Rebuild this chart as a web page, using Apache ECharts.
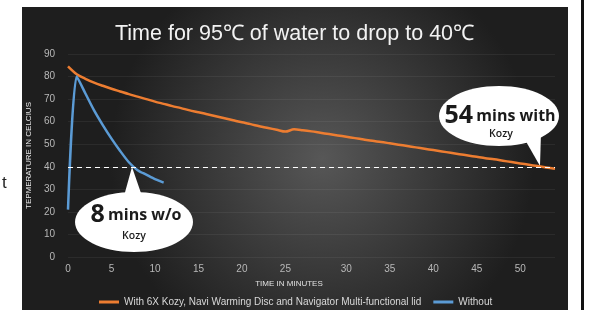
<!DOCTYPE html>
<html>
<head>
<meta charset="utf-8">
<script src="https://cdn.jsdelivr.net/npm/echarts@6.0.0/dist/echarts.min.js"></script>
<style>
  html, body { margin: 0; padding: 0; background: #ffffff; }
  #chart { width: 589px; height: 310px; }
</style>
</head>
<body>
<div id="chart"></div>
<script>
// minutes (category axis, the source sheet has extra half-minute rows around 25)
const minutes = ['0','1','2','3','4','5','6','7','8','9','10','11','12','13','14','15','16','17','18','19','20',
  '21','22','23','24','25','25.5','26','26.5','27','28','29','30','31','32','33','34','35','36','37','38','39','40',
  '41','42','43','44','45','46','47','48','49','50','51','52','53','54']

const withKozy = [84.5, 81.0, 79.0, 77.3, 75.9, 74.6, 73.4, 72.2, 71.1, 70.0, 68.9, 67.9, 66.9, 66.0, 65.0, 64.2,
  63.3, 62.4, 61.5, 60.6, 59.7, 58.9, 58.0, 57.2, 56.4, 55.6, 56.6, 56.2, 55.7, 55.1, 54.5, 53.9, 53.3, 52.7, 52.1,
  51.5, 51.0, 50.4, 49.8, 49.2, 48.6, 48.0, 47.4, 46.8, 46.2, 45.6, 45.0, 44.4, 43.8, 43.3, 42.7, 42.1, 41.5,
  40.9, 40.3, 39.7, 39.1]

const withoutKozy = [21, 80, 72.5, 65, 58.5, 52.5, 47, 42, 38.5, 36.5, 34.5, 33]

const yTicks = [0, 10, 20, 30, 40, 50, 60, 70, 80, 90]
const targetTemp = 40

const seriesNames = ['With 6X Kozy, Navi Warming Disc and Navigator Multi-functional lid', 'Without']

const chart = echarts.init(document.getElementById('chart'))

const bubbleText = {
  a: { fontSize: 25, fontWeight: 'bold', fill: '#1a1a1a', fontFamily: 'Open Sans' },
  b: { fontSize: 16, fontWeight: 'bold', fill: '#1a1a1a', fontFamily: 'Open Sans' }
}

const option = {
  backgroundColor: '#ffffff',
  animation: false,
  textStyle: { fontFamily: 'Liberation Sans, Arial, sans-serif' },
  title: {
    text: 'Time for 95℃ of water to drop to 40℃',
    left: 'center',
    top: 18,
    textStyle: { color: '#f2f2f2', fontSize: 21.5, fontWeight: 'normal' }
  },
  grid: { left: 68, right: 34, top: 54, bottom: 53, containLabel: false },
  legend: {
    data: seriesNames,
    left: 94,
    top: 292,
    icon: 'rect',
    itemWidth: 20,
    itemHeight: 3,
    itemGap: 12,
    textStyle: { color: '#d8d8d8', fontSize: 10 }
  },
  xAxis: {
    type: 'category',
    data: minutes,
    boundaryGap: false,
    name: 'TIME IN MINUTES',
    nameLocation: 'middle',
    nameGap: 23,
    nameTextStyle: { color: '#e0e0e0', fontSize: 8, padding: [0, 45, 0, 0] },
    axisLine: { show: false },
    axisTick: { show: false },
    axisLabel: {
      color: '#b8b8b8',
      fontSize: 10,
      margin: 7,
      interval: (idx, val) => Number(val) % 5 === 0 && Number(val) <= 50
    },
    splitLine: { show: false }
  },
  yAxis: {
    type: 'value',
    min: yTicks[0],
    max: yTicks[yTicks.length - 1],
    interval: 10,
    name: 'TEPMERATURE IN CELCIUS',
    nameLocation: 'middle',
    nameRotate: 90,
    nameGap: 34,
    nameTextStyle: { color: '#e8e8e8', fontSize: 8 },
    axisLine: { show: false },
    axisTick: { show: false },
    axisLabel: { color: '#b8b8b8', fontSize: 10, margin: 13 },
    splitLine: { lineStyle: { color: 'rgba(255,255,255,0.06)', width: 1 } }
  },
  series: [
    {
      name: seriesNames[0],
      type: 'line',
      data: withKozy,
      smooth: 0.3,
      showSymbol: false,
      z: 3,
      itemStyle: { color: '#ED7D31' },
      lineStyle: { color: '#ED7D31', width: 2.5 },
      markLine: {
        silent: true,
        symbol: 'none',
        label: { show: false },
        lineStyle: { color: '#ffffff', type: [5, 4], width: 1.2 },
        data: [{ yAxis: targetTemp }]
      }
    },
    {
      name: seriesNames[1],
      type: 'line',
      data: withoutKozy,
      smooth: 0.25,
      showSymbol: false,
      z: 3,
      itemStyle: { color: '#5B9BD5' },
      lineStyle: { color: '#5B9BD5', width: 2.5 }
    }
  ],
  graphic: [
    {
      type: 'rect',
      z: -10,
      silent: true,
      shape: { x: 22, y: 7, width: 546, height: 303 },
      style: {
        fill: new echarts.graphic.RadialGradient(0.55, 0.5, 0.7, [
          { offset: 0, color: '#575757' },
          { offset: 1, color: '#1e1e1e' }
        ])
      }
    },
    {
      type: 'rect',
      silent: true,
      shape: { x: 581, y: 0, width: 3, height: 310 },
      style: { fill: '#111111' }
    },
    {
      type: 'text',
      silent: true,
      style: { text: 't', x: 2, y: 175, fill: '#222222', font: '17px "Liberation Sans", Arial' }
    },
    // callout: 8 mins w/o Kozy
    {
      type: 'group',
      z: 100,
      silent: true,
      children: [
        { type: 'polygon', shape: { points: [[132, 167], [124, 196], [142, 196]] }, style: { fill: '#ffffff' } },
        { type: 'ellipse', shape: { cx: 134, cy: 222, rx: 59, ry: 30 }, style: { fill: '#ffffff' } },
        {
          type: 'text',
          style: {
            text: '{a|8} {b|mins w/o}',
            x: 136, y: 215, align: 'center', verticalAlign: 'middle',
            rich: bubbleText
          }
        },
        {
          type: 'text',
          style: { text: 'Kozy', x: 134, y: 236, align: 'center', verticalAlign: 'middle', fill: '#1a1a1a', font: '600 10.5px "Open Sans"' }
        }
      ]
    },
    // callout: 54 mins with Kozy
    {
      type: 'group',
      z: 100,
      silent: true,
      children: [
        { type: 'polygon', shape: { points: [[540, 166], [524, 138], [541, 132]] }, style: { fill: '#ffffff' } },
        { type: 'ellipse', shape: { cx: 499, cy: 116, rx: 60, ry: 30 }, style: { fill: '#ffffff' } },
        {
          type: 'text',
          style: {
            text: '{a|54} {b|mins with}',
            x: 500, y: 116, align: 'center', verticalAlign: 'middle',
            rich: bubbleText
          }
        },
        {
          type: 'text',
          style: { text: 'Kozy', x: 501, y: 134, align: 'center', verticalAlign: 'middle', fill: '#1a1a1a', font: '600 10.5px "Open Sans"' }
        }
      ]
    }
  ]
}

chart.setOption(option)
window.addEventListener('resize', () => chart.resize())
</script>
</body>
</html>
